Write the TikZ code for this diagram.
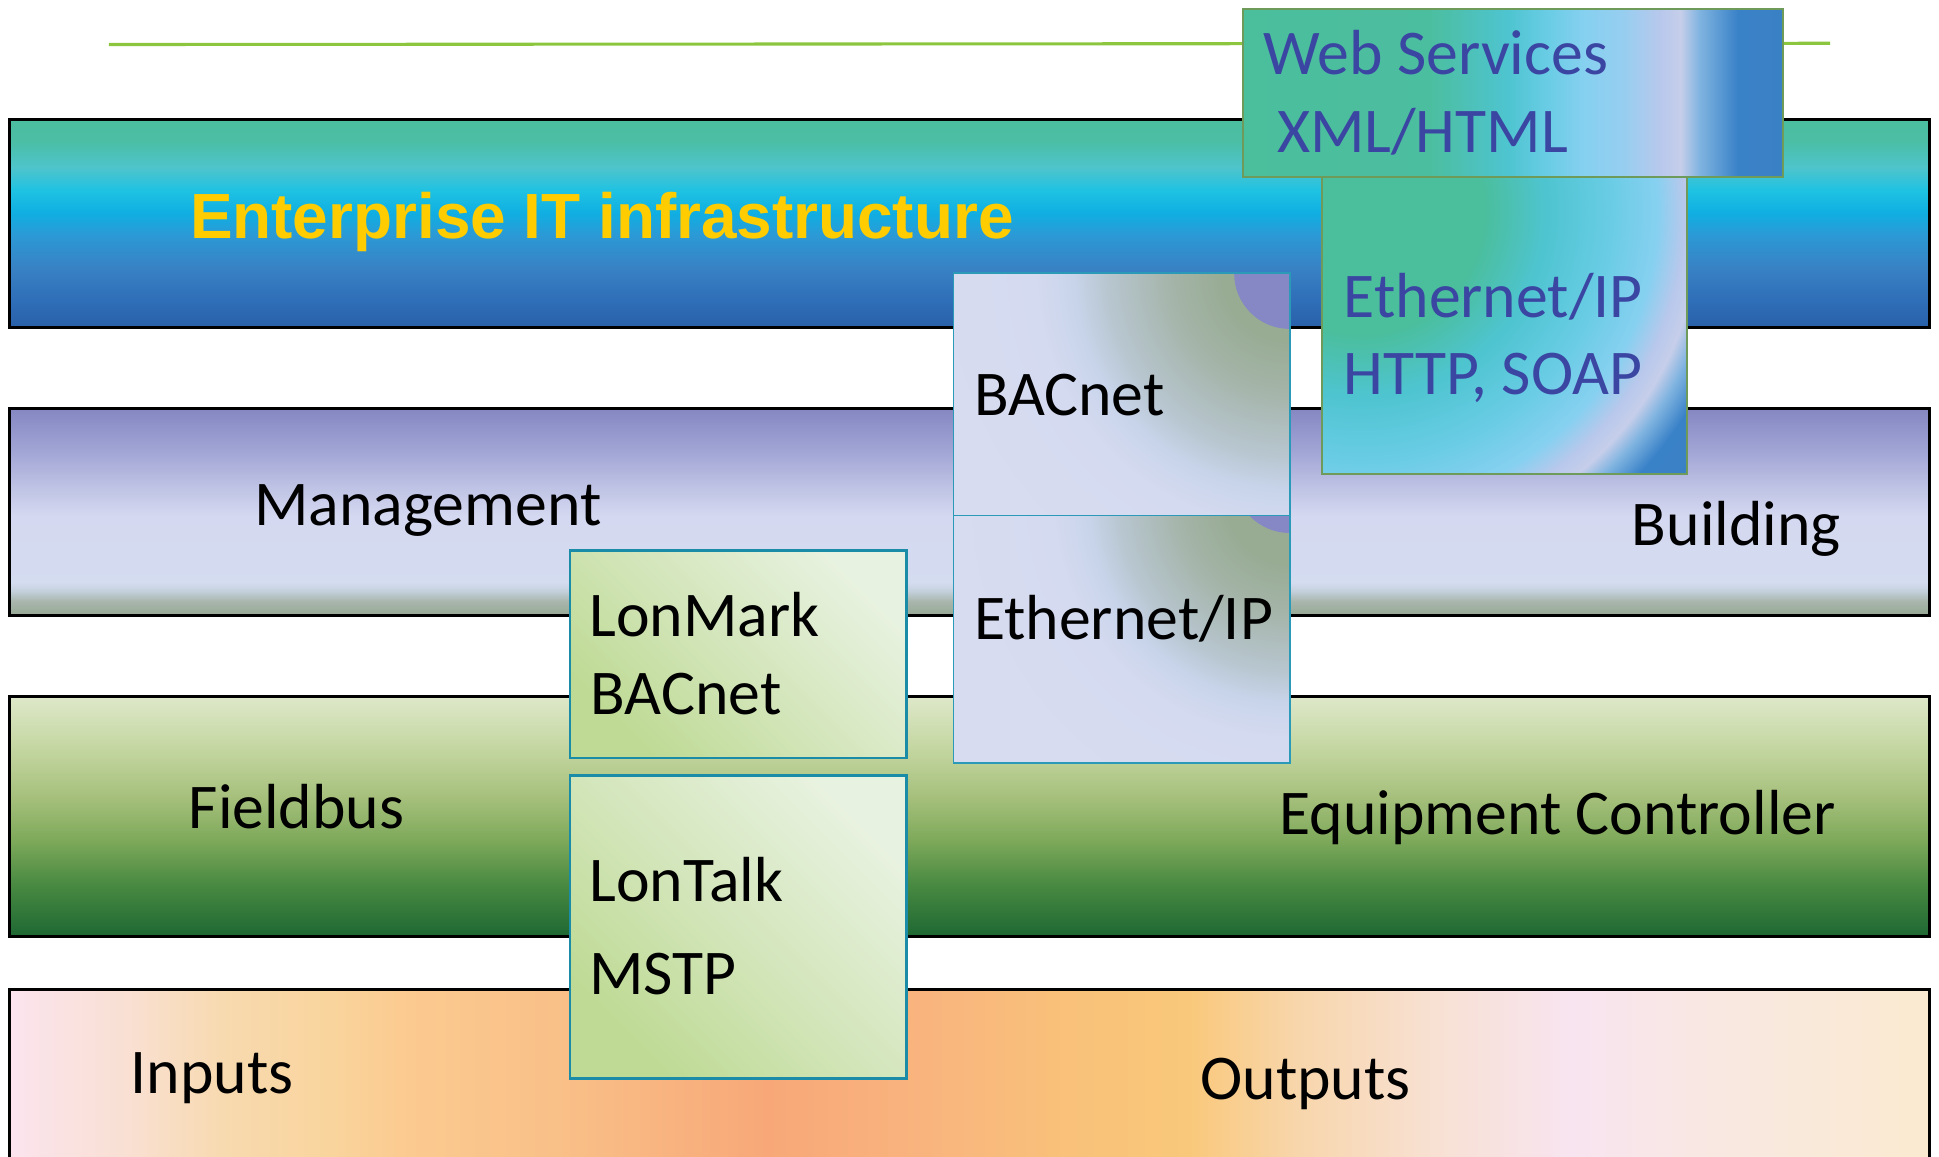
\documentclass[tikz,border=0pt]{standalone}
\usepackage{fontspec}
\setmainfont{Carlito}
\newfontfamily\entfont{Liberation Sans}
\usetikzlibrary{calc}

% band 1
\definecolor{b1a}{HTML}{4BBDA0}
\definecolor{b1b}{HTML}{4BBEA4}
\definecolor{b1c}{HTML}{4EC4CC}
\definecolor{b1d}{HTML}{1EC2E2}
\definecolor{b1e}{HTML}{10AEE2}
\definecolor{b1f}{HTML}{2B9AD6}
\definecolor{b1g}{HTML}{3882C4}
\definecolor{b1h}{HTML}{2F6EB8}
\definecolor{b1i}{HTML}{2860A8}
% band 2
\definecolor{b2a}{HTML}{8587C2}
\definecolor{b2b}{HTML}{A0A4D4}
\definecolor{b2c}{HTML}{C2C6E6}
\definecolor{b2d}{HTML}{D4D8F0}
\definecolor{b2e}{HTML}{D4DCF0}
\definecolor{b2f}{HTML}{C4D0DC}
\definecolor{b2g}{HTML}{A8B6AC}
\definecolor{b2h}{HTML}{96A894}
% band 3
\definecolor{b3a}{HTML}{DEE8CA}
\definecolor{b3b}{HTML}{C6D8A4}
\definecolor{b3c}{HTML}{A6C07C}
\definecolor{b3d}{HTML}{7EA95A}
\definecolor{b3e}{HTML}{4A8A42}
\definecolor{b3f}{HTML}{1E6833}
% band 4
\definecolor{b4a}{HTML}{FBE4EE}
\definecolor{b4b}{HTML}{F9E0D4}
\definecolor{b4c}{HTML}{F8DAB0}
\definecolor{b4d}{HTML}{F9D49C}
\definecolor{b4e}{HTML}{FBCA90}
\definecolor{b4f}{HTML}{F9C088}
\definecolor{b4g}{HTML}{F8A878}
\definecolor{b4h}{HTML}{F9B47E}
\definecolor{b4i}{HTML}{F9C07A}
\definecolor{b4j}{HTML}{F9C87A}
\definecolor{b4k}{HTML}{F8D6AC}
\definecolor{b4l}{HTML}{F8E0D0}
\definecolor{b4m}{HTML}{F8E4F0}
\definecolor{b4n}{HTML}{F9E8E0}
\definecolor{b4o}{HTML}{FAEAD0}
% ocean boxes
\definecolor{ocA}{HTML}{4BBE9C}
\definecolor{ocB}{HTML}{4CBEA0}
\definecolor{ocC}{HTML}{4EC4D0}
\definecolor{ocD}{HTML}{68CCE4}
\definecolor{ocE}{HTML}{86D0F0}
\definecolor{ocF}{HTML}{96CEF0}
\definecolor{ocG}{HTML}{B8C8EC}
\definecolor{ocH}{HTML}{C6CEEA}
\definecolor{ocI}{HTML}{80B4E0}
\definecolor{ocJ}{HTML}{3A82C8}
\definecolor{ocK}{HTML}{3A80C4}
% lavender boxes
\definecolor{lg1}{HTML}{98AC94}
\definecolor{lg2}{HTML}{A4B4A8}
\definecolor{lg3}{HTML}{B8C6D0}
\definecolor{lg4}{HTML}{C8D4EA}
\definecolor{lg5}{HTML}{D4DAF0}
\definecolor{lav0}{HTML}{D8DCF0}
\definecolor{purp}{HTML}{8588C4}
% green boxes
\definecolor{gbot}{HTML}{BEDA94}
\definecolor{gmid}{HTML}{D4E6BC}
\definecolor{gtop}{HTML}{E8F2E0}
% lines and text
\definecolor{tealline}{HTML}{1A8CA8}
\definecolor{lavline}{HTML}{2A9AB8}
\definecolor{ocline}{HTML}{6E9A5A}
\definecolor{rulegreen}{HTML}{8CC63F}
\definecolor{txtblue}{HTML}{3B45A2}
\definecolor{entyellow}{HTML}{FFCC00}

\pgfdeclareverticalshading{bandA}{100bp}{color(0bp)=(b1i); color(25bp)=(b1i); color(31.5bp)=(b1h); color(39.5bp)=(b1g); color(47.5bp)=(b1f); color(52.5bp)=(b1e); color(58bp)=(b1d); color(63.5bp)=(b1c); color(70bp)=(b1b); color(75bp)=(b1a); color(100bp)=(b1a)}
\pgfdeclareverticalshading{bandB}{100bp}{color(0bp)=(b2h); color(25bp)=(b2h); color(28.5bp)=(b2g); color(31bp)=(b2f); color(33bp)=(b2e); color(49bp)=(b2d); color(55bp)=(b2c); color(65bp)=(b2b); color(75bp)=(b2a); color(100bp)=(b2a)}
\pgfdeclareverticalshading{bandC}{100bp}{color(0bp)=(b3f); color(25bp)=(b3f); color(36bp)=(b3e); color(45bp)=(b3d); color(54bp)=(b3c); color(65bp)=(b3b); color(75bp)=(b3a); color(100bp)=(b3a)}
\pgfdeclarehorizontalshading{bandD}{100bp}{color(0bp)=(b4a); color(25bp)=(b4a); color(27.96bp)=(b4b); color(30.54bp)=(b4c); color(33.44bp)=(b4d); color(35.37bp)=(b4e); color(39.24bp)=(b4f); color(44.72bp)=(b4g); color(48.9bp)=(b4h); color(52.13bp)=(b4i); color(55.67bp)=(b4j); color(58.57bp)=(b4k); color(61.79bp)=(b4l); color(65.66bp)=(b4m); color(69.85bp)=(b4n); color(75bp)=(b4o); color(100bp)=(b4o)}
\pgfdeclarehorizontalshading{webh}{100bp}{color(0bp)=(ocA); color(25bp)=(ocA); color(42.39bp)=(ocB); color(49.49bp)=(ocC); color(53.03bp)=(ocD); color(56.58bp)=(ocE); color(60.13bp)=(ocF); color(63.67bp)=(ocG); color(65.5bp)=(ocH); color(67.22bp)=(ocI); color(70.77bp)=(ocJ); color(75bp)=(ocK); color(100bp)=(ocK)}
\pgfdeclareradialshading{ocrad}{\pgfpointorigin}{color(0bp)=(ocA); color(7.35bp)=(ocA); color(11.03bp)=(ocC); color(14.71bp)=(ocD); color(17.65bp)=(ocE); color(19.26bp)=(ocG); color(20.29bp)=(ocH); color(21.32bp)=(ocI); color(22.79bp)=(ocJ); color(25bp)=(ocK); color(50bp)=(ocK)}
\pgfdeclareradialshading{lavrad}{\pgfpointorigin}{color(0bp)=(lg1); color(4.58bp)=(lg1); color(7.92bp)=(lg2); color(12.33bp)=(lg3); color(14.58bp)=(lg4); color(17.08bp)=(lg5); color(25bp)=(lav0); color(50bp)=(lav0)}
\pgfdeclarehorizontalshading{greend}{100bp}{color(0bp)=(gbot); color(25bp)=(gbot); color(50bp)=(gmid); color(75bp)=(gtop); color(100bp)=(gtop)}

\tikzset{
  bandborder/.style={draw=black, line width=0.25mm},
  lbl/.style={anchor=base west, inner sep=0pt, font=\fontsize{14.66pt}{17pt}\selectfont},
  bluelbl/.style={lbl, text=txtblue},
  greenbox/.style={shade, shading=greend, shading angle=45, draw=tealline, line width=0.2mm},
}

\begin{document}
\begin{tikzpicture}[x=0.1mm, y=-0.1mm]
\useasboundingbox (0,0) rectangle (1568,935.6);
\clip (0,0) rectangle (1568,935.6);

% rule under the title
\coordinate (ruleL) at (88,36);
\coordinate (ruleR) at (1480,35);
\draw[rulegreen, line width=0.25mm] (ruleL) -- (ruleR);

% bands
\path[shade, shading=bandA, bandborder] (8,97) rectangle (1560,265);
\path[shade, shading=bandB, bandborder] (8,330) rectangle (1560,498);
\path[shade, shading=bandC, bandborder] (8,563) rectangle (1560,757);
\path[shade, shading=bandD, bandborder] (8,800) rectangle (1560,960);

% lavender boxes
\begin{scope}
  \clip (771,221) rectangle (1043,417);
  \fill[lav0] (771,221) rectangle (1043,417);
  \shade[shading=lavrad] (1043,221) circle[radius=300];
  \fill[purp] (1043,221) circle[radius=45];
\end{scope}
\draw[lavline, line width=0.13mm] (771,221) rectangle (1043,417);
\begin{scope}
  \clip (771,417) rectangle (1043,617);
  \fill[lav0] (771,417) rectangle (1043,617);
  \shade[shading=lavrad] (1043,405) circle[radius=280];
  \fill[purp] (1043,386) circle[radius=45];
\end{scope}
\draw[lavline, line width=0.13mm] (771,417) rectangle (1043,617);

% ocean box (Ethernet/IP, HTTP, SOAP)
\begin{scope}
  \clip (1069,143) rectangle (1364,383);
  \shade[shading=ocrad] (1100,170) circle[radius=340];
\end{scope}
\draw[ocline, line width=0.15mm] (1069,143) rectangle (1364,383);

% ocean box (Web Services)
\path[shade, shading=webh, draw=ocline, line width=0.15mm] (1005,7) rectangle (1442,143);

% green boxes
\path[greenbox] (461,445) rectangle (733,613);
\path[greenbox] (461,627) rectangle (733,872);

% labels
\node[anchor=base west, inner sep=0pt, font=\entfont\bfseries\fontsize{14.7pt}{17pt}\selectfont, text=entyellow] (ent) at (153,193) {Enterprise IT infrastructure};
\node[bluelbl] (web) at (1021,60) {Web Services};
\node[bluelbl] (xml) at (1032,123) {XML/HTML};
\node[bluelbl] (eth1) at (1086,257) {Ethernet/IP};
\node[bluelbl] (http) at (1086,319) {HTTP, SOAP};
\node[lbl] (bac1) at (787,336) {BACnet};
\node[lbl] (eth2) at (787,517) {Ethernet/IP};
\node[lbl] (mgmt) at (205,425) {Management};
\node[lbl] (bldg) at (1319,441) {Building};
\node[lbl] (lonm) at (476,515) {LonMark};
\node[lbl] (bac2) at (477,578) {BACnet};
\node[lbl] (field) at (152,670) {Fieldbus};
\node[lbl] (equip) at (1034,674.5) {Equipment Controller};
\node[lbl] (lont) at (476,729) {LonTalk};
\node[lbl] (mstp) at (476,804) {MSTP};
\node[lbl] (inp) at (105,884) {Inputs};
\node[lbl] (outp) at (970,889.5) {Outputs};
\end{tikzpicture}
\end{document}
